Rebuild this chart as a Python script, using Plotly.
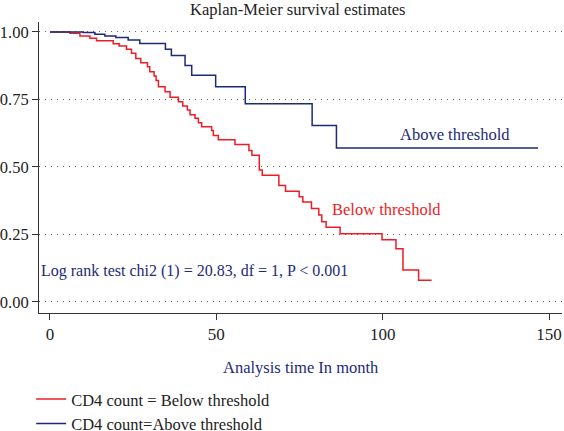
import plotly.graph_objects as go

# Kaplan-Meier step data (time in months, survival probability)
below_t = [0, 6, 9, 12, 14, 19, 20.8, 23, 24.5, 25.8, 27.3, 29.3, 30, 31.3, 31.9, 32.6,
           34.6, 36.1, 38.6, 39.9, 41.3, 42.1, 43.6, 44.6, 45.6, 48.6, 49.1, 50.6,
           55.6, 59.8, 60.7, 62.9, 63.8, 68.8, 70.8, 74.9, 76.0, 78.6, 80.8, 81.7,
           83.0, 87.2, 99.8, 104.0, 106.1, 110.8, 114.7]
below_s = [1.0, 0.995, 0.985, 0.977, 0.968, 0.956, 0.948, 0.936, 0.921, 0.902, 0.886,
           0.871, 0.853, 0.837, 0.820, 0.797, 0.779, 0.758, 0.742, 0.726, 0.711, 0.693,
           0.680, 0.664, 0.649, 0.635, 0.617, 0.601, 0.583, 0.561, 0.543, 0.489, 0.469,
           0.431, 0.410, 0.390, 0.370, 0.346, 0.322, 0.297, 0.277, 0.253, 0.230, 0.197,
           0.118, 0.080, 0.080]

above_t = [0, 10, 13.5, 16.5, 19.8, 23.5, 27, 34.7, 36.5, 40.6, 42.6, 49.8, 58.7,
           78.8, 86.1, 146.7]
above_s = [1.0, 0.998, 0.992, 0.985, 0.980, 0.970, 0.957, 0.936, 0.913, 0.876, 0.840,
           0.797, 0.734, 0.654, 0.570, 0.570]

y_ticks = [0, 0.25, 0.5, 0.75, 1.0]
y_ticklabels = ["0.00", "0.25", "0.50", "0.75", "1.00"]
x_ticks = [0, 50, 100, 150]

RED = "#ee1c25"
NAVY = "#1c2a78"
FONT = "Liberation Serif"

fig = go.Figure()
fig.add_trace(go.Scatter(x=below_t, y=below_s, mode="lines", line_shape="hv",
                         line=dict(color=RED, width=1.5),
                         name="CD4 count = Below threshold", legendgroup="a"))
fig.add_trace(go.Scatter(x=above_t, y=above_s, mode="lines", line_shape="hv",
                         line=dict(color=NAVY, width=1.5),
                         name="CD4 count=Above threshold", legendgroup="b"))

fig.update_layout(
    width=564, height=431,
    margin=dict(l=39, r=2, t=22, b=118, autoexpand=False),
    paper_bgcolor="white", plot_bgcolor="white",
    font=dict(family=FONT, size=16, color="#222222"),
    title=dict(text="Kaplan-Meier survival estimates", x=0.528, xanchor="center",
               y=0.992, yanchor="top", yref="container", pad=dict(t=0, b=0),
               font=dict(family=FONT, size=16.5, color="#222222")),
    showlegend=True,
    legend=dict(x=-0.015, xanchor="left", xref="paper", y=0.114, yanchor="top",
                yref="container", font=dict(family=FONT, size=16.5),
                tracegroupgap=0, itemwidth=30, bgcolor="rgba(0,0,0,0)"),
)
fig.update_xaxes(range=[-3.3, 153.9], tickvals=x_ticks, ticks="outside", ticklen=6,
                 tickcolor="#333", showline=True, linecolor="#333", linewidth=1,
                 showgrid=False, zeroline=False, automargin=False,
                 tickfont=dict(family=FONT, size=17, color="#222"))
fig.update_yaxes(range=[-0.041, 1.037], tickvals=y_ticks, ticktext=y_ticklabels,
                 ticks="outside", ticklen=6, tickcolor="#333", showline=True,
                 linecolor="#333", linewidth=1, showgrid=True, gridcolor="#666",
                 gridwidth=1, griddash="1px,5px", zeroline=False, automargin=False,
                 tickfont=dict(family=FONT, size=16.5, color="#222"))

fig.add_annotation(x=0.5, y=-0.186, xref="paper", yref="paper", text="Analysis time In month",
                   showarrow=False, xanchor="center", yanchor="middle",
                   font=dict(family=FONT, size=16.5, color=NAVY))
fig.add_annotation(x=104.6, y=0.622, text="Above threshold", showarrow=False,
                   xanchor="left", yanchor="middle",
                   font=dict(family=FONT, size=16.5, color=NAVY))
fig.add_annotation(x=84.2, y=0.341, text="Below threshold", showarrow=False,
                   xanchor="left", yanchor="middle",
                   font=dict(family=FONT, size=16.5, color=RED))
fig.add_annotation(x=0.0, y=0.115, xref="paper", text="Log rank test chi2 (1) = 20.83, df = 1, P < 0.001",
                   showarrow=False, xanchor="left", yanchor="middle",
                   font=dict(family=FONT, size=16, color=NAVY))

fig.write_html("out.html", config={"displayModeBar": False},
               post_script="document.body.style.margin='0';")
